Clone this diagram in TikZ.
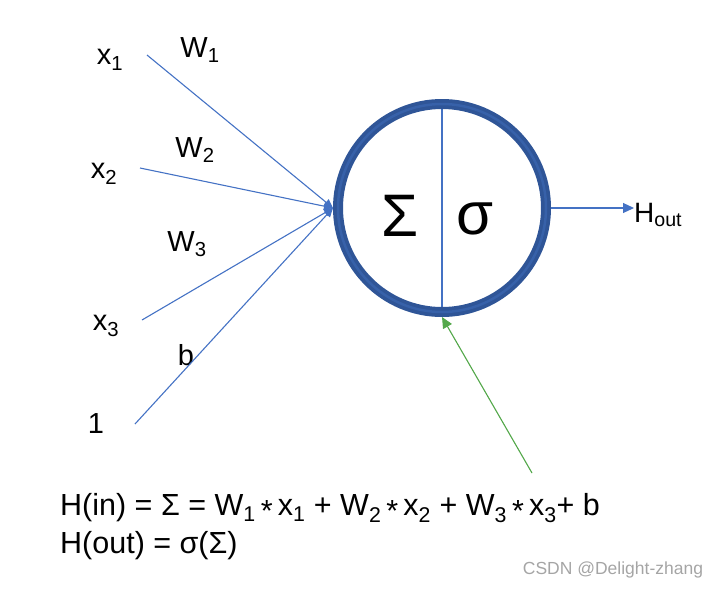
\documentclass[tikz,border=0pt]{standalone}
\usepackage{fontspec}
\setmainfont{Liberation Sans}
\usepackage{tikz}
\usetikzlibrary{arrows.meta,positioning,backgrounds}
\usepackage{xcolor}
\definecolor{ringblue}{RGB}{47,85,151}
\definecolor{lineblue}{RGB}{68,114,196}
\definecolor{biasgreen}{RGB}{84,168,75}
\definecolor{markgray}{RGB}{165,165,165}
\tikzset{
  neuron/.style={circle,draw=ringblue,line width=10pt,minimum size=208pt,inner sep=0pt},
  lbl/.style={inner sep=0pt,font=\fontsize{29}{34}\selectfont},
  wire/.style={draw=lineblue,line width=1.1pt,-{Triangle[length=11pt,width=10pt]}}
}
\newcommand{\mul}{\raisebox{-0.35ex}{*}}

\begin{document}
\begin{tikzpicture}[x=1pt,y=-1pt,
  symb/.style={inner sep=0pt,font=\fontsize{60}{70}\selectfont},
  eq/.style={inner sep=0pt,anchor=west,font=\fontsize{30.5}{38}\selectfont}
]
  \useasboundingbox (0,0) rectangle (720,590);

  % --- Neuron with its two halves ---
  \node[neuron] (N) at (442,208) {};
  \draw[ringblue!60!lineblue,line width=2.5pt] (N.center) circle (104);
  \begin{scope}[on background layer]
    \draw[lineblue,line width=1.1pt] (N.north) -- (N.south);
  \end{scope}
  \node[symb] (sum) at (400,216) {Σ};
  \node[symb] (act) at (475,219) {σ};

  % --- Inputs and weights ---
  \node[lbl] (x1) at (110,60)  {x\textsubscript{1}};
  \node[lbl] (x2) at (104,174) {x\textsubscript{2}};
  \node[lbl] (x3) at (106,326) {x\textsubscript{3}};
  \node[lbl] (one) at (96,424) {1};
  \node[lbl] (w1) at (200,50)  {W\textsubscript{1}};
  \node[lbl] (w2) at (195,150) {W\textsubscript{2}};
  \node[lbl] (w3) at (187,244) {W\textsubscript{3}};
  \node[lbl] (b)  at (186,355) {b};

  \coordinate (s1) at (147,55);
  \coordinate (s2) at (140,168);
  \coordinate (s3) at (142,320);
  \coordinate (s4) at (135,424);
  \coordinate (g0) at (532,473);

  % --- Edges into the neuron ---
  \draw[wire,-{Triangle[length=9pt,width=8pt]}] (s1) -- (N.west);
  \draw[wire,-{Triangle[length=9pt,width=8pt]}] (s2) -- (N.west);
  \draw[wire,-{Triangle[length=9pt,width=8pt]}] (s3) -- (N.west);
  \draw[wire,-{Triangle[length=9pt,width=8pt]}] (s4) -- (N.west);
  \draw[wire,draw=biasgreen,fill=biasgreen] (g0) -- (N.south);

  % --- Output ---
  \node[inner sep=0pt,anchor=west,font=\fontsize{28}{32}\selectfont] (hout) at (634,215) {H\textsubscript{out}};
  \draw[wire,fill=lineblue] (N.east) -- (N.east -| hout.west);

  % --- Formulas ---
  \node[eq] (hin)  at (60,508) {H(in) = Σ = W\textsubscript{1}\,\mul\,x\textsubscript{1} + W\textsubscript{2}\,\mul\,x\textsubscript{2} + W\textsubscript{3}\,\mul\,x\textsubscript{3}+ b};
  \node[eq] (hot) at (60,546) {H(out) = σ(Σ)};

  \node[inner sep=0pt,text=markgray,font=\fontsize{17.5}{20}\selectfont] (mark) at (613,570) {CSDN @Delight-zhang};
\end{tikzpicture}
\end{document}
